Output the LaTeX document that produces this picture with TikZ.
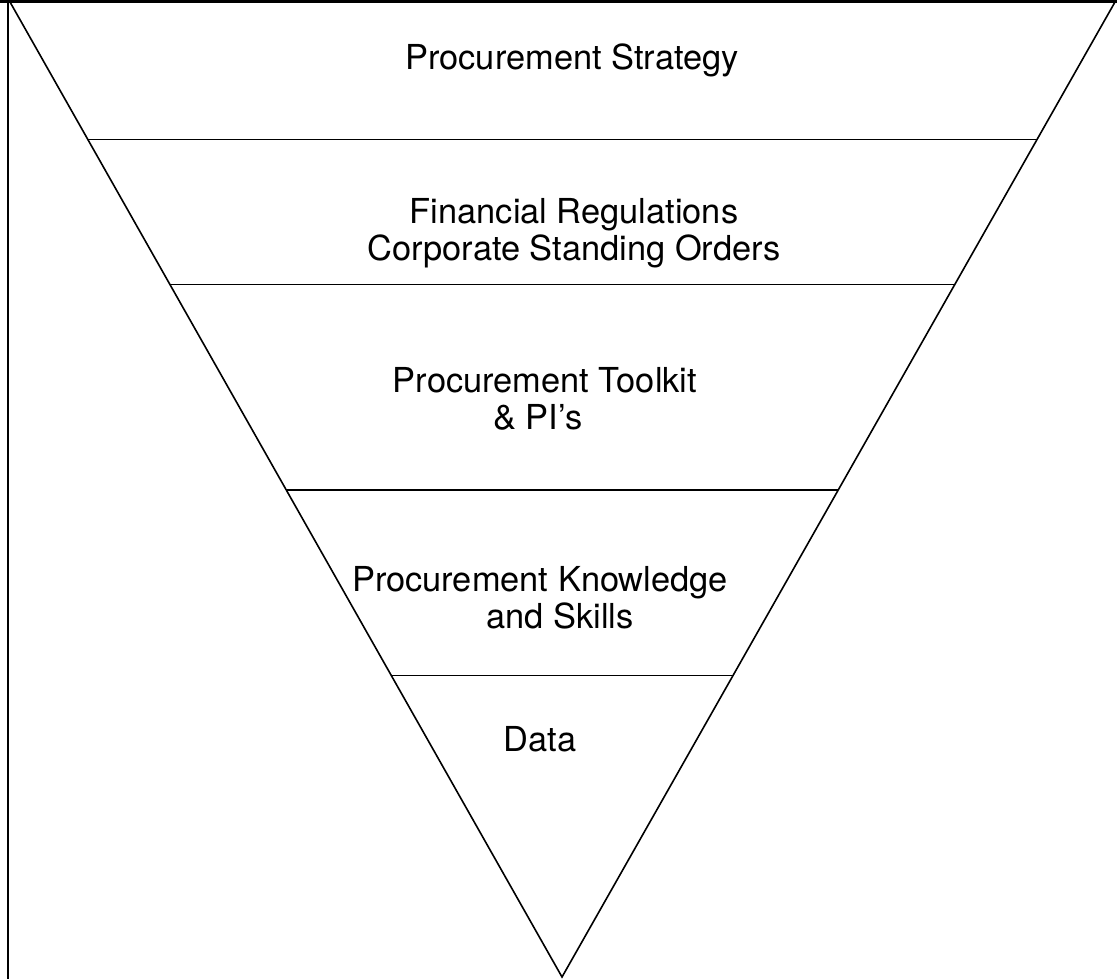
\documentclass[tikz,border=0pt]{standalone}
\usepackage{fontspec}
\setmainfont{TeX Gyre Heros}
\usetikzlibrary{calc}
\begin{document}
\begin{tikzpicture}[x=0.5pt,y=-0.5pt,
    edge/.style={line width=0.8pt},
    band/.style={line width=0.6pt},
    tier/.style={align=center,anchor=base,font=\fontsize{17.2}{18.5}\selectfont}]
    \useasboundingbox (0,0) rectangle (1117,979);
    % frame
    \draw[line width=1.6pt] (0,1) -- (1117,1);
    \draw[line width=0.8pt] (8,0) -- (8,979);
    % inverted triangle
    \coordinate (tl) at (10,2);
    \coordinate (tr) at (1115,2);
    \coordinate (apex) at (562,977);
    \draw[edge] (tl) -- (apex) -- (tr);
    % bands
    \foreach \t/\n in {0.141/a,0.290/b,0.5005/c,0.691/d}{
        \coordinate (l\n) at ($(tl)!\t!(apex)$);
        \coordinate (r\n) at ($(tr)!\t!(apex)$);
        \draw[band] (l\n) -- (r\n);
    }
    % labels (anchored on the last baseline)
    \node[tier] (strategy) at (572,70) {Procurement Strategy};
    \node[tier] (regs) at (574,260) {Financial Regulations\\Corporate Standing Orders};
    \node[tier] (toolkit) at (545,429) {Procurement Toolkit\\\& PI’s\hspace*{7pt}};
    \node[tier] (skills) at (540,628) {Procurement Knowledge\\\hspace*{20pt}and Skills};
    \node[tier] (data) at (540,751) {Data};
\end{tikzpicture}
\end{document}
